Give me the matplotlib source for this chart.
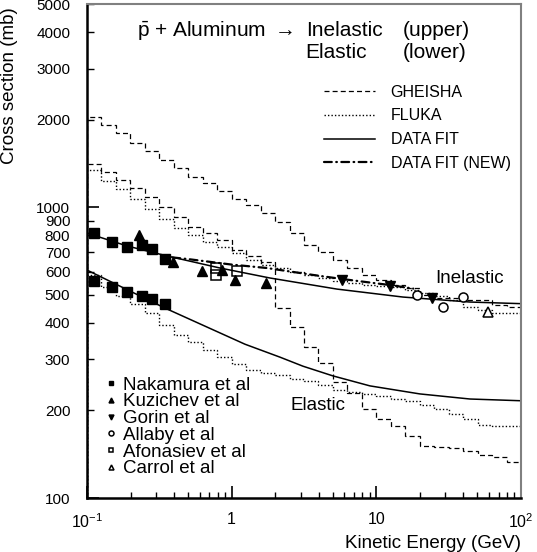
import numpy as np
import matplotlib
matplotlib.use("Agg")
import matplotlib.pyplot as plt
from matplotlib.ticker import FixedLocator, FixedFormatter, NullFormatter, LogLocator

plt.rcParams['font.family'] = ['Liberation Sans', 'DejaVu Sans']
plt.rcParams['mathtext.fontset'] = 'custom'
plt.rcParams['mathtext.rm'] = 'Liberation Sans'
plt.rcParams['mathtext.it'] = 'Liberation Sans:italic'

# Monte Carlo histograms: 10 bins per decade, 0.1 .. 100 GeV
bin_edges = np.logspace(-1, 2, 31)

gheisha_inel = [2047, 1917, 1799, 1665, 1561, 1453, 1364, 1270, 1211, 1137,
                1067, 1018, 955, 889, 815, 741, 701, 658, 618, 585,
                560, 540, 528, 499, 487, 487, 480, 480, 461, 454]
fluka_inel = [1342, 1231, 1155, 1067, 986, 911, 848, 803, 759, 730,
              696, 658, 633, 618, 599, 585, 571, 557, 549, 540,
              536, 531, 519, 507, 495, 480, 454, 443, 433, 433]
gheisha_el = [1408, 1321, 1241, 1164, 1084, 1002, 925, 855, 815, 771,
              713, 680, 648, 450, 387, 331, 291, 251, 230, 202,
              187, 177, 163, 151, 150, 149, 145, 141, 138, 133]
fluka_el = [585, 531, 495, 465, 433, 393, 364, 344, 323, 305,
            289, 276, 269, 265, 257, 253, 245, 235, 231, 228,
            224, 219, 216, 209, 202, 194, 187, 178, 177, 177]

# fits
fit_inel_e = [0.1, 0.189, 0.357, 0.83, 1.84, 5.34, 15.3, 44.4, 100]
fit_inel_v = [815, 736, 680, 618, 571, 523, 491, 472, 466]
fit_el_e = [0.1, 0.198, 0.346, 0.604, 1.236, 2.16, 3.11, 5.01, 9.03, 20, 44.4, 100]
fit_el_v = [608, 515, 450, 397, 338, 305, 284, 263, 243, 228, 219, 216]
fitnew_e = [0.39, 0.49, 1.0, 1.75, 3.65, 5.87, 12.4, 18]
fitnew_v = [672, 664, 635, 618, 585, 566, 540, 525]

# measurements
nak_e = [0.112, 0.149, 0.189, 0.240, 0.281, 0.346]
nak_inel = [815, 759, 730, 741, 718, 664]
nak_el = [557, 531, 511, 495, 484, 465]
kuz_e = [0.229, 0.393, 0.623, 0.857, 1.054, 1.726]
kuz_v = [803, 648, 603, 608, 562, 549]
gor_e = [5.78, 12.4, 24.2]
gor_v = [562, 536, 487]
all_e = [19.1, 28.9, 39.7]
all_v = [499, 454, 491]
afo_e = [0.779, 0.779, 1.088]
afo_v = [618, 585, 603]
car_e = [59]
car_v = [436]

fig = plt.figure(figsize=(5.37, 5.52), dpi=100)
ax = fig.add_axes([87/537, 54/552, 434/537, 494/552])
ax.set_xscale('log')
ax.set_yscale('log')
ax.set_xlim(0.1, 100)
ax.set_ylim(100, 5000)

dash = (0, (4, 2.5))
dot = (0, (1, 1.5))
h_gh = ax.stairs(gheisha_inel, bin_edges, color='k', lw=0.9, ls=dash)
ax.stairs(gheisha_el, bin_edges, color='k', lw=0.9, ls=dash)
h_fl = ax.stairs(fluka_inel, bin_edges, color='k', lw=1.0, ls=dot)
ax.stairs(fluka_el, bin_edges, color='k', lw=1.0, ls=dot)
h_fit, = ax.plot(fit_inel_e, fit_inel_v, color='k', lw=1.1)
ax.plot(fit_el_e, fit_el_v, color='k', lw=1.1)
h_new, = ax.plot(fitnew_e, fitnew_v, color='k', lw=1.6,
                 ls=(0, (3.5, 2, 0.3, 2)), dash_capstyle='round')

ms = 6.5
h_nak, = ax.plot(nak_e, nak_inel, 's', color='k', ms=ms, ls='none', zorder=5)
ax.plot(nak_e, nak_el, 's', color='k', ms=ms, ls='none', zorder=5)
h_kuz, = ax.plot(kuz_e, kuz_v, '^', color='k', ms=ms, ls='none', zorder=5)
h_gor, = ax.plot(gor_e, gor_v, 'v', color='k', ms=ms, ls='none', zorder=5)
h_all, = ax.plot(all_e, all_v, 'o', mfc='white', mec='k', mew=1.1, ms=ms,
                 ls='none', zorder=5)
h_afo, = ax.plot(afo_e, afo_v, 's', mfc='none', mec='k', mew=1.1, ms=ms,
                 ls='none', zorder=5)
h_car, = ax.plot(car_e, car_v, '^', mfc='white', mec='k', mew=1.1, ms=ms,
                 ls='none', zorder=5)

# axes styling
for s in ['left', 'bottom']:
    ax.spines[s].set_linewidth(1.8)
for s in ['top', 'right']:
    ax.spines[s].set_linewidth(1.5)
    ax.spines[s].set_color('0.5')

ax.yaxis.set_major_locator(FixedLocator([100, 1000]))
ax.yaxis.set_major_formatter(FixedFormatter(['100', '1000']))
yminor = [200, 300, 400, 500, 600, 700, 800, 900, 2000, 3000, 4000, 5000]
ax.yaxis.set_minor_locator(FixedLocator(yminor))
ax.yaxis.set_minor_formatter(FixedFormatter([str(v) for v in yminor]))
ax.xaxis.set_major_locator(FixedLocator([0.1, 1, 10, 100]))
ax.xaxis.set_major_formatter(FixedFormatter([r'$10^{-1}$', '1', '10', r'$10^{2}$']))
ax.xaxis.set_minor_locator(LogLocator(base=10, subs=np.arange(2, 10)))
ax.xaxis.set_minor_formatter(NullFormatter())
ax.tick_params(axis='both', which='both', direction='in', top=False, right=False)
ax.tick_params(axis='y', which='major', length=8.5, width=1.2, labelsize=11, pad=12)
ax.tick_params(axis='y', which='minor', length=5, width=1.0, labelsize=11, pad=12)
ax.tick_params(axis='x', which='major', length=8.5, width=1.2, labelsize=11.5, pad=10)
ax.tick_params(axis='x', which='minor', length=4.5, width=1.0)

ax.set_ylabel('Cross section (mb)', fontsize=13.5)
ax.yaxis.set_label_coords(-0.16, 0.835)
ax.set_xlabel('Kinetic Energy (GeV)', fontsize=13.5, ha='right')
ax.xaxis.set_label_coords(1.0, -0.075)

tk = dict(transform=ax.transAxes, fontsize=15, va='baseline')
ax.text(0.475, 0.935, r'$\mathrm{\bar{p}}$ + Aluminum $\rightarrow$', ha='right', **tk)
ax.text(0.505, 0.935, 'Inelastic', ha='left', **tk)
ax.text(0.728, 0.935, '(upper)', ha='left', **tk)
ax.text(0.502, 0.891, 'Elastic', ha='left', **tk)
ax.text(0.728, 0.891, '(lower)', ha='left', **tk)
ax.text(0.802, 0.445, 'Inelastic', transform=ax.transAxes, fontsize=13.5, va='center')
ax.text(0.468, 0.188, 'Elastic', transform=ax.transAxes, fontsize=13.5, va='center')

leg1 = ax.legend([h_gh, h_fl, h_fit, h_new],
                 ['GHEISHA', 'FLUKA', 'DATA FIT', 'DATA FIT (NEW)'],
                 loc='upper left', bbox_to_anchor=(0.545, 0.837), frameon=False,
                 fontsize=11.5, handlelength=3.2, handletextpad=1.0,
                 labelspacing=0.55, borderpad=0, borderaxespad=0)
ax.add_artist(leg1)
ax.legend([h_nak, h_kuz, h_gor, h_all, h_afo, h_car],
          ['Nakamura et al', 'Kuzichev et al', 'Gorin et al', 'Allaby et al',
           'Afonasiev et al', 'Carrol et al'],
          loc='upper left', bbox_to_anchor=(0.045, 0.246), frameon=False,
          fontsize=13.5, handlelength=0.5, handletextpad=0.4, markerscale=0.55,
          labelspacing=-0.02, borderpad=0, borderaxespad=0)

fig.savefig('out.png', dpi=100)
